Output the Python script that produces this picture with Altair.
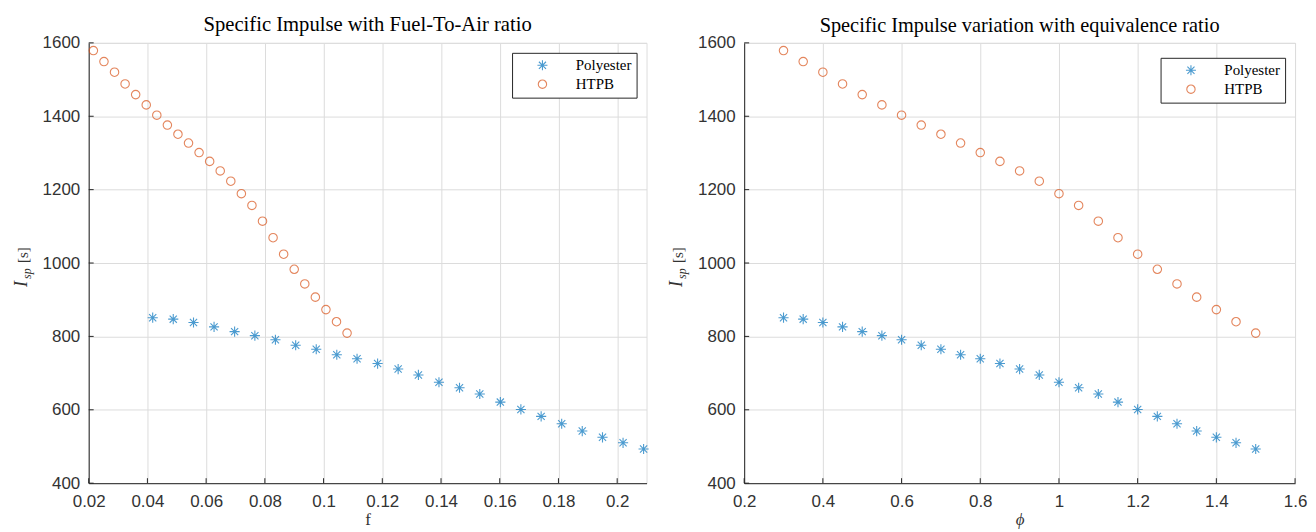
import altair as alt
import pandas as pd

# ---- data ----
phi = [0.30, 0.35, 0.40, 0.45, 0.50, 0.55, 0.60, 0.65, 0.70, 0.75, 0.80, 0.85, 0.90,
       0.95, 1.00, 1.05, 1.10, 1.15, 1.20, 1.25, 1.30, 1.35, 1.40, 1.45, 1.50]
f_htpb = [0.0216, 0.0252, 0.0288, 0.0324, 0.0360, 0.0396, 0.0432, 0.0468, 0.0504,
          0.0540, 0.0576, 0.0612, 0.0648, 0.0684, 0.0720, 0.0756, 0.0792, 0.0828,
          0.0864, 0.0900, 0.0936, 0.0972, 0.1008, 0.1044, 0.1080]
f_poly = [0.0418, 0.0488, 0.0557, 0.0627, 0.0697, 0.0766, 0.0836, 0.0905, 0.0975,
          0.1045, 0.1114, 0.1184, 0.1254, 0.1323, 0.1393, 0.1463, 0.1532, 0.1602,
          0.1672, 0.1741, 0.1811, 0.1881, 0.1950, 0.2020, 0.2090]
isp_htpb = [1579, 1549, 1520, 1488, 1459, 1431, 1403, 1376, 1351, 1327, 1301, 1277,
            1251, 1223, 1189, 1157, 1114, 1069, 1024, 983, 943, 907, 873, 840, 809]
isp_poly = [851, 847, 838, 826, 813, 802, 791, 776, 765, 750, 739, 726, 711, 695,
            675, 660, 643, 621, 601, 582, 562, 542, 525, 510, 493]
series = ["Polyester", "HTPB"]
x_ticks_left = [0.02, 0.04, 0.06, 0.08, 0.1, 0.12, 0.14, 0.16, 0.18, 0.2]
x_ticks_right = [0.2, 0.4, 0.6, 0.8, 1.0, 1.2, 1.4, 1.6]
y_ticks = [400, 600, 800, 1000, 1200, 1400, 1600]

left_df = pd.DataFrame({
    "x": f_poly + f_htpb,
    "y": isp_poly + isp_htpb,
    "series": ["Polyester"] * len(f_poly) + ["HTPB"] * len(f_htpb),
})
right_df = pd.DataFrame({
    "x": phi + phi,
    "y": isp_poly + isp_htpb,
    "series": ["Polyester"] * len(phi) + ["HTPB"] * len(phi),
})

STAR = "M0,-1.2L0,1.2M-1.2,0L1.2,0M-0.85,-0.85L0.85,0.85M-0.85,0.85L0.85,-0.85"
BLUE = "#0072BD"
ORANGE = "#D95319"
SERIF = "Liberation Serif"
SANS = "Liberation Sans"
H = 442
LBL = dict(labelFont=SANS, labelFontSize=17, labelColor="#333333", labelFlush=False,
           labelOverlap=False, ticks=False, grid=True, gridColor="#DCDCDC", gridWidth=1,
           domainColor="#262626", domainWidth=1)


def panel(df, xdomain, xticks, xtitle, xtitle_italic, title, tsize, width, lx, ly):
    leg = alt.Legend(orient="none", legendX=lx, legendY=ly, title=None, padding=5,
                     strokeColor="#262626", fillColor="white", labelFont=SERIF,
                     labelFontSize=15, labelColor="#000000", symbolSize=70,
                     symbolStrokeWidth=1.1, symbolOffset=18, labelOffset=26,
                     rowPadding=3, cornerRadius=0)
    xsc = alt.Scale(domain=xdomain, nice=False, zero=False)
    ysc = alt.Scale(domain=[400, 1600], nice=False, zero=False)
    pts = alt.Chart(df).mark_point(filled=False, size=72, strokeWidth=1.1).encode(
        x=alt.X("x:Q", scale=xsc,
                axis=alt.Axis(values=xticks, format="~g", title=xtitle,
                              titleFont=SERIF, titleFontSize=17,
                              titleFontStyle="italic" if xtitle_italic else "normal",
                              titleFontWeight="normal", titleColor="#333333",
                              titlePadding=2, labelPadding=10, **LBL)),
        y=alt.Y("y:Q", scale=ysc,
                axis=alt.Axis(values=y_ticks, format="d", title=None, labelPadding=9,
                              **LBL)),
        color=alt.Color("series:N", scale=alt.Scale(domain=series, range=[BLUE, ORANGE]),
                        legend=leg),
        shape=alt.Shape("series:N", scale=alt.Scale(domain=series, range=[STAR, "circle"]),
                        legend=leg),
    )
    # inward tick marks (MATLAB style)
    xt = alt.Chart(pd.DataFrame({"t": xticks})).mark_rule(color="#262626", strokeWidth=1).encode(
        x=alt.X("t:Q", scale=xsc), y=alt.value(H), y2=alt.value(H - 5))
    yt = alt.Chart(pd.DataFrame({"t": y_ticks})).mark_rule(color="#262626", strokeWidth=1).encode(
        y=alt.Y("t:Q", scale=ysc), x=alt.value(0), x2=alt.value(5))
    one = pd.DataFrame({"k": [0]})
    t_i = alt.Chart(one).mark_text(text="I", angle=270, align="left", baseline="alphabetic",
                                   font=SERIF, fontSize=18, fontStyle="italic",
                                   color="#333333").encode(
        x=alt.value(-62), y=alt.value(245))
    t_sp = alt.Chart(one).mark_text(text="sp", angle=270, align="left", baseline="alphabetic",
                                    font=SERIF, fontSize=12, fontStyle="italic",
                                    color="#333333").encode(
        x=alt.value(-58), y=alt.value(237))
    t_s = alt.Chart(one).mark_text(text="[s]", angle=270, align="left", baseline="alphabetic",
                                   font=SERIF, fontSize=15, color="#333333").encode(
        x=alt.value(-61), y=alt.value(221))
    return alt.layer(pts, xt, yt, t_i, t_sp, t_s).properties(
        width=width, height=H,
        title=alt.TitleParams(title, font=SERIF, fontSize=tsize, fontWeight="normal",
                              color="#000000", offset=-2, anchor="middle"),
    )


left = panel(left_df, [0.02, 0.21], x_ticks_left, "f", False,
             "Specific Impulse with Fuel-To-Air ratio", 20.7, 560, 425, 10)
right = panel(right_df, [0.2, 1.6], x_ticks_right, "ϕ", True,
              "Specific Impulse variation with equivalence ratio", 20.4, 553, 418, 15)

chart = alt.hconcat(left, right, spacing=16).properties(
    padding={"left": 4, "top": 4, "right": 0, "bottom": 0}
).resolve_scale(color="independent", shape="independent").configure_view(
    stroke="#DCDCDC", strokeWidth=1
).configure(background="white")

chart.save("out.html", embed_options={"renderer": "svg", "actions": False})
